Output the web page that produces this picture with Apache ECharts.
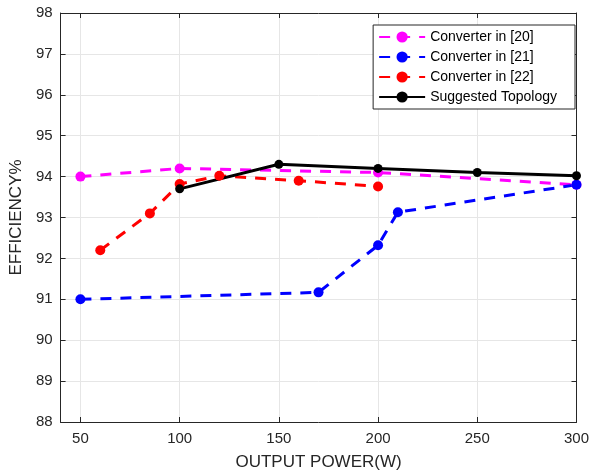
<!DOCTYPE html>
<html>
<head>
<meta charset="utf-8">
<script src="https://cdn.jsdelivr.net/npm/echarts@6/dist/echarts.min.js"></script>
<style>
  html, body { margin: 0; padding: 0; background: #fff; }
  #main { width: 592px; height: 476px; }
</style>
</head>
<body>
<div id="main"></div>
<script>
// data: [output power W, efficiency %]
const conv20 = [[50, 94.0], [100, 94.2], [200, 94.1], [300, 93.8]];
const conv21 = [[50, 91.0], [170, 91.17], [200, 92.32], [210, 93.13], [300, 93.8]];
const conv22 = [[60, 92.2], [85, 93.1], [100, 93.82], [120, 94.02], [160, 93.9], [200, 93.76]];
const suggested = [[100, 93.7], [150, 94.3], [200, 94.2], [250, 94.1], [300, 94.02]];
const xTicks = [50, 100, 150, 200, 250, 300];
const names = ['Converter in [20]', 'Converter in [21]', 'Converter in [22]', 'Suggested Topology'];

const chart = echarts.init(document.getElementById('main'));
const font = 'Liberation Sans, Arial, sans-serif';
const axisCol = '#262626';

const mkX = (show) => ({
  type: 'value',
  min: 40,
  max: 300,
  position: show ? 'bottom' : 'top',
  name: show ? 'OUTPUT POWER(W)' : '',
  nameLocation: 'middle',
  nameGap: 32,
  nameTextStyle: { color: axisCol, fontSize: 17, fontFamily: font },
  axisLine: { show: true, lineStyle: { color: axisCol, width: 1 } },
  axisTick: { show: true, inside: true, length: 5, customValues: xTicks, lineStyle: { color: axisCol } },
  axisLabel: { show: show, color: axisCol, fontSize: 15, fontFamily: font, margin: 9, customValues: xTicks },
  splitLine: { show: show, lineStyle: { color: '#e6e6e6', width: 1 } }
});

const mkY = (show) => ({
  type: 'value',
  min: 88,
  max: 98,
  interval: 1,
  position: show ? 'left' : 'right',
  name: show ? 'EFFICIENCY%' : '',
  nameLocation: 'middle',
  nameGap: 35,
  nameTextStyle: { color: axisCol, fontSize: 17, fontFamily: font },
  axisLine: { show: true, lineStyle: { color: axisCol, width: 1 } },
  axisTick: { show: true, inside: true, length: 5, lineStyle: { color: axisCol } },
  axisLabel: { show: show, color: axisCol, fontSize: 15, fontFamily: font, margin: 8 },
  splitLine: { show: show, lineStyle: { color: '#e6e6e6', width: 1 } }
});

const line = (name, data, color, dashed, size) => ({
  name: name,
  type: 'line',
  data: data,
  symbol: 'circle',
  symbolSize: size,
  itemStyle: { color: color },
  lineStyle: { color: color, width: 3, type: dashed ? [11, 9] : 'solid' },
  animation: false
});

chart.setOption({
  backgroundColor: '#fff',
  animation: false,
  grid: { left: 57, right: 14, top: 13, bottom: 54 },
  legend: {
    orient: 'vertical',
    right: 17,
    top: 25,
    data: names,
    backgroundColor: '#fff',
    borderColor: axisCol,
    borderWidth: 1,
    borderRadius: 0,
    padding: [5, 18, 5, 5],
    itemWidth: 46,
    itemHeight: 14,
    itemGap: 6,
    textStyle: { color: '#000', fontSize: 14, fontFamily: font }
  },
  xAxis: [mkX(true), mkX(false)],
  yAxis: [mkY(true), mkY(false)],
  series: [
    line(names[0], conv20, '#ff00ff', true, 10),
    line(names[1], conv21, '#0000ff', true, 10),
    line(names[2], conv22, '#ff0000', true, 10),
    line(names[3], suggested, '#000000', false, 9)
  ]
});
</script>
</body>
</html>
